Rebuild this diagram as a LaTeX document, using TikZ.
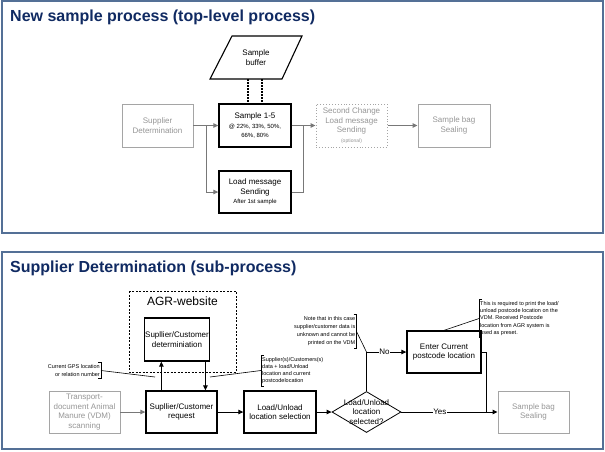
\documentclass[tikz,border=0pt]{standalone}
\usepackage{fontspec}
\setmainfont{Liberation Sans}
\usetikzlibrary{arrows.meta,shapes.geometric}
\definecolor{panelc}{RGB}{84,112,150}
\definecolor{titlec}{RGB}{16,42,98}
\definecolor{gboxc}{RGB}{165,165,165}
\definecolor{gtextc}{RGB}{150,150,150}
\definecolor{garc}{RGB}{120,120,120}
\newcommand\fsz[2]{\fontsize{#1}{#2}\selectfont}
\begin{document}
\begin{tikzpicture}[x=1pt,y=-1pt,
  panel/.style={draw=panelc, line width=1.1pt},
  ttl/.style={font=\fsz{16}{19}\bfseries, text=titlec, inner sep=0pt, anchor=base west},
  pbox/.style={rectangle, inner sep=1pt, align=center, font=\fsz{8}{9.6}},
  blk/.style={pbox, draw=black, line width=1.3pt, text=black},
  gry/.style={pbox, draw=gboxc, line width=0.9pt, text=gtextc},
  garrow/.style={draw=garc, line width=1pt, -{Triangle[length=5pt,width=4.5pt]}},
  gline/.style={draw=garc, line width=1pt},
  barrow/.style={draw=black, line width=1pt, -{Triangle[length=5pt,width=4.5pt]}},
  bline/.style={draw=black, line width=1pt},
  anno/.style={inner xsep=1pt, inner ysep=2pt, font=\fsz{5.5}{7.2}, text=black},
  brk/.style={draw=black, line width=0.6pt},
  lbl/.style={fill=white, inner sep=0.5pt, font=\fsz{8}{9.6}},
  dbl/.style={line width=1.1pt, dash pattern=on 1.6pt off 1.4pt}
]
\useasboundingbox (0,0) rectangle (605,451);
\fill[white] (0,0) rectangle (605,451);
% panels
\draw[panel] (2,1) rectangle (603,233);
\draw[panel] (2,252) rectangle (603,449);
\node[ttl] (t1) at (10,21) {New sample process (top-level process)};
\node[ttl] (t2) at (10,272) {Supplier Determination (sub-process)};

% ---------- panel 1 ----------
\draw[line width=1.1pt] (232,36) -- (302,36) -- (282,79) -- (210,79) -- cycle;
\node[pbox] (buf) at (256,57.5) {Sample\\buffer};
\node[blk, minimum width=72pt, minimum height=43pt] (s15) at (255,125.5)
  {Sample 1-5\\\fsz{6}{8.6}@ 22\%, 33\%, 50\%,\\\fsz{6}{8.6}66\%, 80\%};
\coordinate (bl1) at (248,79);
\coordinate (bl2) at (262,79);
\draw[dbl] (bl1) -- (bl1 |- s15.north);
\draw[dbl] (bl2) -- (bl2 |- s15.north);
\node[gry, minimum width=71pt, minimum height=43pt] (sup) at (157.5,125.5) {Supplier\\Determination};
\node[blk, minimum width=72pt, minimum height=42pt] (lm) at (255,192)
  {Load message\\Sending\\\fsz{6}{9.8}After 1st sample};
\node[gry, draw=gboxc, dotted, line width=1pt, minimum width=71pt, minimum height=43pt] (sc) at (351.5,125.5)
  {Second Change\\Load message\\Sending\\\fsz{5}{9.8}(optional)};
\node[gry, minimum width=72pt, minimum height=43pt] (bag1) at (454,125.5) {Sample bag\\Sealing};
\coordinate (j1) at (206,125.5);
\coordinate (j2) at (303,125.5);
\draw[garrow] (sup.east) -- (s15.west);
\draw[garrow] (j1) |- (lm.west);
\draw[garrow] (s15.east) -- (sc.west);
\draw[gline] (lm.east) -| (j2);
\draw[garrow] (sc.east) -- (bag1.west);

% ---------- panel 2 ----------
\draw[line width=0.8pt, dash pattern=on 2pt off 1.5pt] (129,291) rectangle (236,372);
\node[font=\fsz{12}{14}, inner sep=0pt] (agr) at (182.5,301) {AGR-website};
\node[blk, minimum width=62pt, minimum height=43pt] (det) at (177,339.5) {Supllier/Customer\\determiniation};
\node[blk, minimum width=71pt, minimum height=42pt] (req) at (181.5,412) {Supllier/Customer\\request};
\node[gry, minimum width=71pt, minimum height=42pt] (trans) at (84.5,412) {Transport-\\document Animal\\Manure (VDM)\\scanning};
\node[blk, minimum width=72pt, minimum height=42pt] (lus) at (280,412) {Load/Unload\\location selection};
\node[draw=black, line width=0.8pt, diamond, minimum width=69pt, minimum height=41pt, inner sep=0pt] (dia) at (366.5,412) {};
\node[pbox] (diat) at (366.5,412) {Load/Unload\\location\\selected?};
\node[blk, minimum width=74pt, minimum height=42pt] (enter) at (444,352) {Enter Current\\postcode location};
\node[gry, minimum width=71pt, minimum height=42pt] (bag2) at (533.5,412) {Sample bag\\Sealing};

\draw[gline, -{Triangle[length=5pt,width=4.5pt]}] (trans.east) -- (req.west);
\draw[barrow] ([xshift=16pt]req.north west) -- ([xshift=16pt]req.north west |- det.south);
\draw[barrow] ([xshift=-5pt]det.south east) -- ([xshift=-5pt]det.south east |- req.north);
\draw[barrow] (req.east) -- (lus.west);
\draw[barrow] (lus.east) -- (dia.west);
\coordinate (nocorner) at (dia.north |- enter.west);
\draw[barrow] (dia.north) -- (nocorner) -- node[lbl, pos=0.45] {No} (enter.west);
\draw[barrow] (dia.east) -- node[lbl, pos=0.4] {Yes} (bag2.west);
\coordinate (yj) at (486,412);
\draw[bline] (enter.east) -| (yj);

% annotations
\node[anno, align=right, anchor=east] (gps) at (101,370.5) {Current GPS location\\or relation number};
\draw[brk] ([xshift=-3pt]gps.north east) -- (gps.north east) -- (gps.south east) -- ([xshift=-3pt]gps.south east);
\coordinate (gpsend) at (155,377);
\draw[brk] (gps.east) -- (gpsend);

\node[anno, align=left, anchor=west] (supa) at (261,370.5) {Supplier(s)/Customers(s)\\data + load/Unload\\location and current\\postcodelocation};
\draw[brk] ([xshift=3pt]supa.north west) -- (supa.north west) -- (supa.south west) -- ([xshift=3pt]supa.south west);
\coordinate (supend) at (210,377);
\draw[brk] (supa.west) -- (supend);

\node[anno, align=right, anchor=east, font=\fsz{5.5}{8}] (note) at (356.5,331.5) {Note that in this case\\supplier/customer data is\\unknown and cannot be\\printed on the VDM};
\draw[brk] ([xshift=-3pt]note.north east) -- (note.north east) -- (note.south east) -- ([xshift=-3pt]note.south east);
\draw[brk] (note.east) -- (nocorner);

\node[anno, align=left, anchor=west] (reqa) at (479,318.5) {This is required to print the load/\\unload postcode location on the\\VDM. Received Postcode\\location from AGR system is\\used as preset.};
\draw[brk] ([xshift=3pt]reqa.north west) -- (reqa.north west) -- (reqa.south west) -- ([xshift=3pt]reqa.south west);
\draw[brk] (reqa.west) -- (enter.north);
\end{tikzpicture}
\end{document}
